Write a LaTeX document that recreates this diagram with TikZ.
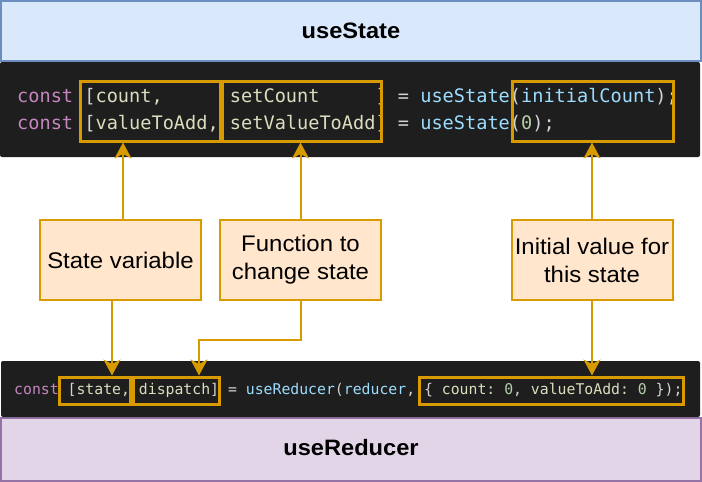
\documentclass[tikz,border=0pt]{standalone}
\usepackage{fontspec}
\setmainfont{Liberation Sans}
\newfontfamily\codefont{DejaVu Sans Mono}
\newfontfamily\labelfont[FakeStretch=1.06]{Liberation Sans}
\usetikzlibrary{arrows.meta}
\definecolor{titleblue}{HTML}{DAE8FC}
\definecolor{titleblueline}{HTML}{6C8EBF}
\definecolor{titlepurple}{HTML}{E1D5E7}
\definecolor{titlepurpleline}{HTML}{9673A6}
\definecolor{editorbg}{HTML}{1E1E1E}
\definecolor{accent}{HTML}{D79B00}
\definecolor{notefill}{HTML}{FFE6CC}
\definecolor{kw}{HTML}{C586C0}
\definecolor{pn}{HTML}{D4D4D4}
\definecolor{vr}{HTML}{DCDCBE}
\definecolor{fnc}{HTML}{9CDCFE}
\definecolor{num}{HTML}{B5CEA8}
\tikzset{
  titlebar/.style={draw, line width=2pt},
  titletext/.style={font=\labelfont\bfseries\fontsize{22.3}{27}\selectfont},
  editor/.style={fill=editorbg, rounded corners=2pt},
  codebox/.style={draw=accent, line width=3pt, inner sep=0pt},
  note/.style={draw=accent, fill=notefill, line width=2pt, minimum width=161pt, minimum height=80pt,
    inner sep=0pt, align=center, font=\labelfont\fontsize{22.6}{28}\selectfont},
  arr/.style={draw=accent, line width=2pt,
    -{Stealth[length=16pt, width=17pt, inset=4.5pt]}},
}
\begin{document}
\begin{tikzpicture}[x=1pt, y=-1pt]
  \useasboundingbox (0,0) rectangle (702,482);

  % title bars
  \path[titlebar, fill=titleblue, draw=titleblueline] (1,1) rectangle (701,61);
  \node[titletext] (tstate) at (351,31) {useState};
  \path[titlebar, fill=titlepurple, draw=titlepurpleline] (1,418) rectangle (701,481);
  \node[titletext] (treducer) at (351,448) {useReducer};

  % editor panels
  \path[editor] (0,62) rectangle (700,157);
  \path[editor] (1,361) rectangle (700,417);

  % useState code
  \node[anchor=base west, inner sep=0pt, font=\codefont\fontsize{18.6}{22}\selectfont] (l1) at (17,102)
    {\textcolor{kw}{const}~\textcolor{pn}{[}\textcolor{vr}{count,}~~~~~~\textcolor{vr}{setCount}~~~~~\textcolor{pn}{]}~\textcolor{pn}{=}~\textcolor{fnc}{useState}\textcolor{pn}{(}\textcolor{fnc}{initialCount}\textcolor{pn}{);}};
  \node[anchor=base west, inner sep=0pt, font=\codefont\fontsize{18.6}{22}\selectfont] (l2) at (17,129)
    {\textcolor{kw}{const}~\textcolor{pn}{[}\textcolor{vr}{valueToAdd,}~\textcolor{vr}{setValueToAdd}\textcolor{pn}{]}~\textcolor{pn}{=}~\textcolor{fnc}{useState}\textcolor{pn}{(}\textcolor{num}{0}\textcolor{pn}{);}};

  % useReducer code
  \node[anchor=base west, inner sep=0pt, font=\codefont\fontsize{14.8}{18}\selectfont] (l3) at (14,394)
    {\textcolor{kw}{const}~\textcolor{pn}{[}\textcolor{vr}{state,}~\textcolor{vr}{dispatch}\textcolor{pn}{]}~\textcolor{pn}{=}~\textcolor{fnc}{useReducer}\textcolor{pn}{(}\textcolor{fnc}{reducer}\textcolor{pn}{,}~\textcolor{pn}{\{}~\textcolor{vr}{count:}~\textcolor{num}{0}\textcolor{pn}{,}~\textcolor{vr}{valueToAdd:}~\textcolor{num}{0}~\textcolor{pn}{\});}};

  % highlight frames
  \node[codebox, minimum width=140pt, minimum height=60pt] (cb1) at (150,111) {};
  \node[codebox, minimum width=159pt, minimum height=60pt] (cb2) at (301.5,111) {};
  \node[codebox, minimum width=161pt, minimum height=60pt] (cb3) at (592.5,111) {};
  \node[codebox, minimum width=71pt, minimum height=27pt] (ra) at (94.5,390.5) {};
  \node[codebox, minimum width=86pt, minimum height=27pt] (rb) at (176,390.5) {};
  \node[codebox, minimum width=264pt, minimum height=27pt] (rc) at (551,390.5) {};

  % notes
  \node[note] (sv) at (120.5,260) {State variable};
  \node[note] (fn) at (300.5,260) {Function to\\change state};
  \node[note] (iv) at (592,260) {Initial value for\\this state};

  % connector guides
  \coordinate (a1) at (123,0);
  \coordinate (d1) at (112,0);
  \coordinate (d2) at (199,0);
  \coordinate (j)  at (0,340);

  % connectors
  \draw[arr] (sv.north -| a1) -- (cb1.south -| a1);
  \draw[arr] (fn.north) -- (fn.north |- cb2.south);
  \draw[arr] (iv.north) -- (iv.north |- cb3.south);
  \draw[arr] (sv.south -| d1) -- (ra.north -| d1);
  \draw[arr] (fn.south) -- (fn.south |- j) -| (rb.north -| d2);
  \draw[arr] (iv.south) -- (iv.south |- rc.north);
\end{tikzpicture}
\end{document}
